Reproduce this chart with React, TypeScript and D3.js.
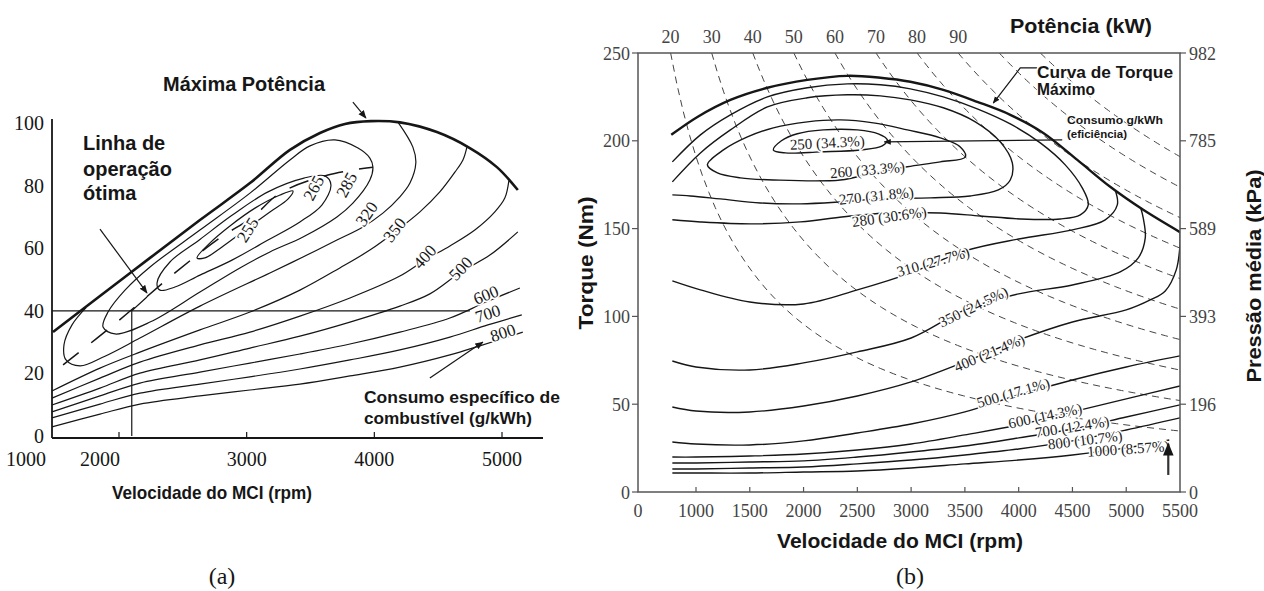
import React from "react";
import * as d3 from "d3";

type Pt = [number, number];

// ================= Chart (a): speed (rpm) x load (%) =================
const aXTicks = [1000, 2000, 3000, 4000, 5000];
const aYTicks = [0, 20, 40, 60, 80, 100];

const aMaxPower: Pt[] = [[1483, 33.2], [1851, 44.7], [2243, 56.9], [2634, 69.0], [3026, 80.8], [3339, 91.4], [3574, 96.8], [3770, 99.7], [3973, 100.6], [4200, 100.2], [4490, 97.1], [4748, 92.0], [4960, 85.9], [5124, 78.6]];
const aIso255: Pt[] = [[2611, 56.9], [2713, 61.7], [2869, 67.1], [3065, 72.8], [3261, 77.0], [3362, 78.3], [3323, 75.7], [3182, 71.6], [2987, 65.8], [2807, 60.4], [2673, 56.9]];
const aIso265: Pt[] = [[2298, 48.9], [2399, 55.6], [2634, 62.8], [2885, 70.5], [3167, 78.0], [3449, 82.4], [3613, 83.1], [3660, 80.2], [3589, 73.8], [3417, 68.4], [3167, 62.6], [2885, 56.2], [2634, 51.4], [2438, 47.6], [2321, 46.6]];
const aIso285: Pt[] = [[1875, 34.8], [1969, 32.6], [2243, 36.4], [2634, 46.0], [2947, 53.7], [3182, 58.8], [3441, 63.6], [3707, 70.0], [3832, 74.4], [3965, 81.8], [3989, 85.9], [3965, 88.8], [3872, 92.0], [3691, 94.6], [3496, 92.7], [3339, 88.2], [3026, 77.6], [2634, 65.8], [2243, 54.0], [2047, 46.6], [1914, 39.6]];
const aIso320: Pt[] = [[1742, 41.0], [1632, 35.5], [1569, 29.1], [1585, 24.3], [1695, 22.4], [1890, 25.5], [2164, 31.3], [2634, 41.5], [3182, 52.1], [3441, 57.2], [3707, 62.6], [3911, 66.8], [4067, 71.2], [4200, 76.4], [4279, 80.8], [4325, 87.2], [4302, 92.3], [4185, 100.3]];
const aIso350: Pt[] = [[1475, 14.4], [1851, 21.7], [2164, 26.8], [2634, 33.9], [3026, 39.6], [3417, 46.6], [3730, 53.7], [3965, 59.4], [4161, 65.2], [4357, 71.6], [4513, 78.0], [4631, 84.3], [4694, 88.2], [4725, 92.3]];
const aIso400: Pt[] = [[1475, 12.1], [1851, 18.5], [2164, 23.6], [2634, 29.1], [3026, 33.2], [3417, 38.3], [3809, 44.1], [4200, 51.1], [4396, 56.2], [4592, 60.7], [4787, 65.8], [4944, 71.6], [5022, 76.0], [5054, 81.6]];
const aIso500: Pt[] = [[1475, 9.9], [1851, 15.3], [2164, 20.1], [2634, 24.3], [3026, 28.1], [3417, 31.9], [3809, 36.4], [4200, 41.5], [4435, 45.4], [4678, 52.4], [4905, 57.8], [5124, 65.2]];
const aIso600: Pt[] = [[1475, 7.7], [1851, 12.8], [2164, 16.9], [2634, 20.4], [3026, 23.3], [3417, 26.2], [3809, 29.4], [4200, 33.2], [4592, 37.7], [4874, 42.8], [5140, 47.3]];
const aIso700: Pt[] = [[1475, 5.8], [1851, 10.2], [2164, 13.7], [2634, 16.6], [3026, 18.9], [3417, 21.4], [3809, 24.3], [4200, 27.5], [4592, 31.6], [4889, 35.5], [5155, 38.7]];
const aIso800: Pt[] = [[1475, 2.9], [1851, 7.0], [2164, 10.2], [2634, 12.8], [3026, 14.7], [3417, 16.6], [3809, 19.2], [4200, 22.0], [4592, 25.9], [4826, 28.8], [5163, 33.2]];
const aOptimalLine: Pt[] = [[1562, 22.7], [1984, 36.4], [2438, 52.1], [2791, 63.3], [3049, 70.0], [3261, 77.6], [3637, 83.4], [3989, 85.9]];
const aOperatingPoint: Pt[] = [[2100, 0], [2100, 40], [2219, 44.4]];
const aLoadLine = 40;
const aLoadLineEnd = 4748;
const aIsoLabels = [
  { text: "255", n: 3010, t: 65.8, rot: -58 },
  { text: "265", n: 3527, t: 79.2, rot: -62 },
  { text: "285", n: 3785, t: 80.2, rot: -62 },
  { text: "320", n: 3942, t: 70.9, rot: -55 },
  { text: "350", n: 4161, t: 65.8, rot: -52 },
  { text: "400", n: 4396, t: 57.2, rot: -48 },
  { text: "500", n: 4678, t: 53.4, rot: -46 },
  { text: "600", n: 4874, t: 45.0, rot: -22 },
  { text: "700", n: 4889, t: 39.0, rot: -18 },
  { text: "800", n: 5007, t: 32.9, rot: -18 },
];

// ================= Chart (b): speed (rpm) x torque (Nm) =================
const bXTicks = [0, 1000, 1500, 2000, 2500, 3000, 3500, 4000, 4500, 5000, 5500];
const bYTicks = [0, 50, 100, 150, 200, 250];
const bPressureLabels = ["0", "196", "393", "589", "785", "982"];
const bPowerKW = [20, 30, 40, 50, 60, 70, 80, 90, 100, 110];
const bPowerTickLabels = [20, 30, 40, 50, 60, 70, 80, 90];

const bMaxTorque: Pt[] = [[770, 203.4], [1013, 213.6], [1320, 223.3], [1664, 230.2], [2035, 234.7], [2407, 237.0], [2714, 235.9], [2993, 233.6], [3299, 229.0], [3615, 222.2], [3922, 214.8], [4229, 204.5], [4545, 189.1], [4851, 173.8], [5158, 160.7], [5500, 148.0]];
const bIso250: Pt[] = [[1719, 194.8], [1794, 200.0], [1942, 204.0], [2184, 206.2], [2500, 206.2], [2695, 204.0], [2779, 200.5], [2732, 197.1], [2528, 194.8], [2156, 193.7], [1831, 193.1]];
const bIso260: Pt[] = [[1106, 186.3], [1255, 194.8], [1478, 202.2], [1719, 207.4], [2035, 210.8], [2342, 211.9], [2649, 210.2], [2965, 206.2], [3271, 201.7], [3457, 196.5], [3504, 190.8], [3271, 188.0], [2965, 185.2], [2649, 181.7], [2342, 177.7], [1719, 177.7], [1413, 178.9], [1199, 181.7]];
const bIso270: Pt[] = [[780, 176.6], [1041, 193.1], [1320, 206.2], [1664, 219.3], [2035, 224.5], [2407, 226.2], [2714, 225.6], [2993, 223.3], [3299, 218.8], [3597, 210.8], [3829, 199.4], [3941, 187.4], [3922, 177.7], [3811, 172.0], [3550, 168.6], [3179, 167.5], [2714, 166.9], [2342, 165.2], [1970, 164.1], [1599, 164.6], [1227, 166.9], [948, 168.6], [780, 169.2]];
const bIso280: Pt[] = [[780, 188.0], [1041, 203.4], [1320, 214.8], [1664, 225.0], [2035, 230.2], [2407, 232.4], [2714, 231.9], [2993, 229.6], [3299, 225.0], [3615, 218.2], [3922, 209.6], [4201, 198.8], [4433, 186.3], [4591, 173.2], [4647, 163.5], [4573, 157.8], [4387, 155.5], [4015, 155.5], [3643, 157.2], [3271, 158.9], [2779, 158.9], [2435, 157.2], [1970, 153.8], [1506, 152.7], [1041, 153.8], [780, 155.0]];
const bIso310: Pt[] = [[780, 120.2], [1041, 115.1], [1500, 108.2], [2000, 107.1], [2500, 115.1], [3000, 124.8], [3500, 137.3], [4000, 144.1], [4500, 149.3], [4805, 155.0], [4917, 163.5], [4898, 171.8]];
const bIso350: Pt[] = [[780, 74.6], [1000, 71.2], [1500, 69.5], [2000, 73.5], [2500, 79.8], [3000, 87.7], [3500, 103.7], [4000, 112.8], [4500, 117.9], [4944, 125.3], [5112, 133.3], [5177, 144.7], [5158, 156.1], [5135, 161.7]];
const bIso400: Pt[] = [[780, 48.4], [1000, 46.1], [1500, 45.6], [2000, 49.0], [2500, 54.7], [3000, 62.7], [3500, 74.1], [4000, 86.6], [4500, 96.8], [5000, 103.7], [5223, 109.4], [5363, 114.5], [5465, 126.5], [5500, 140.7], [5500, 148.0]];
const bIso500: Pt[] = [[780, 28.5], [1000, 27.3], [1500, 26.8], [2000, 29.1], [2500, 33.6], [3000, 38.7], [3500, 45.6], [4000, 55.3], [4500, 63.8], [5000, 71.2], [5500, 77.5]];
const bIso600: Pt[] = [[780, 19.9], [1000, 19.9], [1500, 20.5], [2000, 21.6], [2500, 23.9], [3000, 27.3], [3500, 32.5], [4000, 38.2], [4500, 45.6], [5000, 53.0], [5500, 60.4]];
const bIso700: Pt[] = [[780, 16.5], [1000, 16.5], [1500, 17.1], [2000, 17.7], [2500, 19.9], [3000, 22.8], [3500, 26.2], [4000, 30.8], [4500, 35.9], [5000, 42.7], [5500, 49.6]];
const bIso800: Pt[] = [[780, 13.1], [1000, 13.1], [1500, 13.7], [2000, 14.2], [2500, 16.0], [3000, 18.2], [3500, 21.1], [4000, 24.5], [4500, 29.1], [5000, 35.3], [5500, 42.2]];
const bIso1000: Pt[] = [[780, 10.8], [1000, 10.8], [1500, 10.8], [2000, 11.4], [2500, 12.0], [3000, 13.7], [3500, 16.0], [4000, 18.2], [4500, 21.1], [5000, 25.1], [5400, 29.6]];
const bIsoLabels = [
  { text: "250 (34.3%)", n: 2221, t: 198.8, rot: -3 },
  { text: "260 (33.3%)", n: 2593, t: 183.4, rot: -5 },
  { text: "270 (31.8%)", n: 2677, t: 168.6, rot: -6 },
  { text: "280 (30.6%)", n: 2797, t: 156.7, rot: -8 },
  { text: "310 (27.7%)", n: 3206, t: 131.0, rot: -16 },
  { text: "350 (24.5%)", n: 3578, t: 105.4, rot: -26 },
  { text: "400 (21.4%)", n: 3727, t: 79.2, rot: -23 },
  { text: "500 (17.1%)", n: 3950, t: 56.4, rot: -16 },
  { text: "600 (14.3%)", n: 4247, t: 43.3, rot: -12 },
  { text: "700 (12.4%)", n: 4498, t: 37.0, rot: -9 },
  { text: "800 (10.7%)", n: 4619, t: 29.6, rot: -7 },
  { text: "1000 (8.57%)", n: 5019, t: 24.5, rot: -4 },
];
const bEffArrow: Pt[] = [[4405, 200.5], [2751, 199.4]];
const bMaxTorqueLeader: Pt[] = [[4173, 241.5], [4015, 241.5], [3764, 221.5]];
const bIdleArrow: Pt[] = [[5391, 9.7], [5391, 27.5]];

const SERIF = "'Liberation Serif', 'Times New Roman', serif";
const SANS = "'Liberation Sans', Arial, sans-serif";
const INK = "#161616";

export default function App() {
  // chart (a) scales
  const xA = d3.scaleLinear().domain([2000, 5000]).range([119, 502]);
  const yA = d3.scaleLinear().domain([0, 100]).range([436, 123]);
  const aLeft = 52, aRight = 543, aBottom = 438, aTop = 119;
  const aStartRpm = xA.invert(aLeft);

  // chart (b) scales
  const xB = d3.scaleLinear().domain([1000, 5500]).range([696, 1180]);
  const yB = d3.scaleLinear().domain([0, 250]).range([492, 53]);
  const bLeft = 638, bRight = xB(5500), bTop = yB(250), bBottom = yB(0);

  const lineA = d3.line<Pt>().x((d) => xA(d[0])).y((d) => yA(d[1])).curve(d3.curveCatmullRom.alpha(0.5));
  const loopA = d3.line<Pt>().x((d) => xA(d[0])).y((d) => yA(d[1])).curve(d3.curveCatmullRomClosed.alpha(0.5));
  const straightA = d3.line<Pt>().x((d) => xA(d[0])).y((d) => yA(d[1]));
  const lineB = d3.line<Pt>().x((d) => xB(d[0])).y((d) => yB(d[1])).curve(d3.curveCatmullRom.alpha(0.5));
  const loopB = d3.line<Pt>().x((d) => xB(d[0])).y((d) => yB(d[1])).curve(d3.curveCatmullRomClosed.alpha(0.5));
  const straightB = d3.line<Pt>().x((d) => xB(d[0])).y((d) => yB(d[1]));

  // constant-power lines: torque = 9549.3 * P / n
  const bStartRpm = xB.invert(bLeft);
  const powerLine = (p: number): Pt[] => {
    const n0 = Math.max((9549.3 * p) / 250, bStartRpm);
    return d3.range(0, 81).map((i) => {
      const n = n0 + ((5500 - n0) * i) / 80;
      return [n, (9549.3 * p) / n] as Pt;
    });
  };

  const aOpen = [aIso320, aIso350, aIso400, aIso500, aIso600, aIso700, aIso800];
  const aClosed = [aIso255, aIso265, aIso285];
  const bOpen = [bIso270, bIso280, bIso310, bIso350, bIso400, bIso500, bIso600, bIso700, bIso800, bIso1000];
  const bClosed = [bIso250, bIso260];

  const aXLabelPos = (v: number) => (v === 1000 ? aLeft - 26 : v === 2000 ? xA(v) - 19 : xA(v));
  const bXLabelPos = (v: number) => (v === 0 ? bLeft : xB(v));

  return (
    <svg width={1264} height={591} viewBox="0 0 1264 591" style={{ position: "absolute", left: 0, top: 0, background: "#fff" }}>
      <defs>
        <marker id="arr" viewBox="0 0 10 10" refX="9" refY="5" markerWidth="7" markerHeight="7" orient="auto">
          <path d="M0,1 L10,5 L0,9 z" fill={INK} />
        </marker>
        <marker id="arrB" viewBox="0 0 10 10" refX="9" refY="5" markerWidth="6" markerHeight="6" orient="auto">
          <path d="M0,1 L10,5 L0,9 z" fill={INK} />
        </marker>
        <clipPath id="clipB">
          <rect x={bLeft} y={bTop} width={bRight - bLeft} height={bBottom - bTop} />
        </clipPath>
      </defs>
      <rect x={0} y={0} width={1264} height={591} fill="#fff" />

      {/* ================= Chart (a) ================= */}
      <g>
        <path d={straightA([[aStartRpm, aLoadLine], [aLoadLineEnd, aLoadLine]]) || ""} fill="none" stroke={INK} strokeWidth={1.2} />
        <path d={straightA(aOperatingPoint) || ""} fill="none" stroke={INK} strokeWidth={1.2} />
        {aClosed.map((c, i) => (
          <path key={"ac" + i} d={loopA(c) || ""} fill="none" stroke={INK} strokeWidth={1.2} />
        ))}
        {aOpen.map((c, i) => (
          <path key={"ao" + i} d={lineA(c) || ""} fill="none" stroke={INK} strokeWidth={1.2} />
        ))}
        <path d={lineA(aOptimalLine) || ""} fill="none" stroke={INK} strokeWidth={1.5} strokeDasharray="20,16" />
        <path d={lineA(aMaxPower) || ""} fill="none" stroke={INK} strokeWidth={2.6} />
        {aIsoLabels.map((l) => (
          <text key={l.text} x={xA(l.n)} y={yA(l.t)} transform={`rotate(${l.rot},${xA(l.n)},${yA(l.t)})`}
            textAnchor="middle" dominantBaseline="central" fontFamily={SERIF} fontSize={17} fill={INK}
            stroke="#fff" strokeWidth={3.5} paintOrder="stroke">{l.text}</text>
        ))}
        <line x1={aLeft} y1={aTop} x2={aLeft} y2={aBottom} stroke={INK} strokeWidth={1.8} />
        <line x1={aLeft} y1={aBottom} x2={aRight} y2={aBottom} stroke={INK} strokeWidth={2} />
        {aXTicks.filter((v) => v > 1000).map((v) => (
          <line key={"axt" + v} x1={xA(v)} x2={xA(v)} y1={aBottom} y2={aBottom - 6} stroke={INK} strokeWidth={1.2} />
        ))}
        {aXTicks.map((v) => (
          <text key={"axl" + v} x={aXLabelPos(v)} y={466} textAnchor="middle" fontFamily={SERIF} fontSize={20} fill={INK}>{v}</text>
        ))}
        {aYTicks.map((v) => (
          <text key={"ayl" + v} x={44} y={yA(v) + 7} textAnchor="end" fontFamily={SERIF} fontSize={20} fill={INK}>{v}</text>
        ))}
        <text x={163} y={91} fontFamily={SANS} fontWeight="bold" fontSize={20} fill={INK} textLength={162} lengthAdjust="spacingAndGlyphs">Máxima Potência</text>
        <path d={straightA([[3832, 106.7], [3934, 101.6]]) || ""} stroke={INK} strokeWidth={1.2} markerEnd="url(#arr)" />
        <text x={83} y={150} fontFamily={SANS} fontWeight="bold" fontSize={20} fill={INK}>Linha de</text>
        <text x={83} y={176} fontFamily={SANS} fontWeight="bold" fontSize={20} fill={INK}>operação</text>
        <text x={83} y={200} fontFamily={SANS} fontWeight="bold" fontSize={20} fill={INK}>ótima</text>
        <path d={straightA([[1851, 66.1], [2219, 45.7]]) || ""} stroke={INK} strokeWidth={1.2} markerEnd="url(#arr)" />
        <text x={364} y={403} fontFamily={SANS} fontWeight="bold" fontSize={16} fill={INK} textLength={196} lengthAdjust="spacingAndGlyphs">Consumo específico de</text>
        <text x={364} y={424} fontFamily={SANS} fontWeight="bold" fontSize={16} fill={INK} textLength={168} lengthAdjust="spacingAndGlyphs">combustível (g/kWh)</text>
        <path d={straightA([[4435, 18.5], [4850, 30.0]]) || ""} stroke={INK} strokeWidth={1.2} markerEnd="url(#arr)" />
        <text x={212} y={499} textAnchor="middle" fontFamily={SANS} fontWeight="bold" fontSize={19} fill={INK} textLength={200} lengthAdjust="spacingAndGlyphs">Velocidade do MCI (rpm)</text>
        <text x={222} y={584} textAnchor="middle" fontFamily={SERIF} fontSize={24} fill={INK}>(a)</text>
      </g>

      {/* ================= Chart (b) ================= */}
      <g>
        <g clipPath="url(#clipB)">
          {bPowerKW.map((p) => (
            <path key={"pw" + p} d={straightB(powerLine(p)) || ""} fill="none" stroke="#444" strokeWidth={1} strokeDasharray="7,5" />
          ))}
          {bClosed.map((c, i) => (
            <path key={"bc" + i} d={loopB(c) || ""} fill="none" stroke={INK} strokeWidth={1.4} />
          ))}
          {bOpen.map((c, i) => (
            <path key={"bo" + i} d={lineB(c) || ""} fill="none" stroke={INK} strokeWidth={1.4} />
          ))}
          <path d={lineB(bMaxTorque) || ""} fill="none" stroke={INK} strokeWidth={2.4} />
        </g>
        {bIsoLabels.map((l) => (
          <text key={l.text} x={xB(l.n)} y={yB(l.t)} transform={`rotate(${l.rot},${xB(l.n)},${yB(l.t)})`}
            textAnchor="middle" dominantBaseline="central" fontFamily={SERIF} fontSize={15} fill="#222"
            stroke="#fff" strokeWidth={3} paintOrder="stroke">{l.text}</text>
        ))}
        <rect x={bLeft} y={bTop} width={bRight - bLeft} height={bBottom - bTop} fill="none" stroke="#555" strokeWidth={1.5} />
        {bYTicks.map((v) => (
          <g key={"byt" + v}>
            <line x1={bLeft - 6} x2={bLeft} y1={yB(v)} y2={yB(v)} stroke="#555" strokeWidth={1.2} />
            <line x1={bRight} x2={bRight + 6} y1={yB(v)} y2={yB(v)} stroke="#555" strokeWidth={1.2} />
            <text x={630} y={yB(v) + 6.5} textAnchor="end" fontFamily={SERIF} fontSize={18} fill="#444">{v}</text>
          </g>
        ))}
        {bPressureLabels.map((s, i) => (
          <text key={"bpl" + s} x={1189} y={yB(bYTicks[i]) + 6.5} fontFamily={SERIF} fontSize={18} fill="#444">{s}</text>
        ))}
        {bXTicks.filter((v) => v > 0 && v < 5500).map((v) => (
          <line key={"bxt" + v} x1={xB(v)} x2={xB(v)} y1={bBottom} y2={bBottom - 5} stroke="#555" strokeWidth={1.2} />
        ))}
        {bXTicks.map((v) => (
          <text key={"bxl" + v} x={bXLabelPos(v)} y={517} textAnchor="middle" fontFamily={SERIF} fontSize={18} fill="#444">{v}</text>
        ))}
        {bPowerTickLabels.map((p) => (
          <text key={"ptl" + p} x={xB((9549.3 * p) / 250)} y={43} textAnchor="middle" fontFamily={SERIF} fontSize={18} fill="#444">{p}</text>
        ))}
        <path d={straightB(bEffArrow) || ""} fill="none" stroke={INK} strokeWidth={1.2} markerEnd="url(#arrB)" />
        <path d={straightB(bMaxTorqueLeader) || ""} fill="none" stroke={INK} strokeWidth={1.2} markerEnd="url(#arrB)" />
        <path d={straightB(bIdleArrow) || ""} fill="none" stroke="#333" strokeWidth={2.2} markerEnd="url(#arrB)" />
        <text x={1037} y={78} fontFamily={SANS} fontWeight="bold" fontSize={17} fill={INK} textLength={136} lengthAdjust="spacingAndGlyphs"
          stroke="#fff" strokeWidth={3} paintOrder="stroke">Curva de Torque</text>
        <text x={1037} y={95} fontFamily={SANS} fontWeight="bold" fontSize={17} fill={INK} textLength={58} lengthAdjust="spacingAndGlyphs"
          stroke="#fff" strokeWidth={3} paintOrder="stroke">Máximo</text>
        <text x={1067} y={124} fontFamily={SANS} fontWeight="bold" fontSize={10.5} fill={INK} textLength={96} lengthAdjust="spacingAndGlyphs"
          stroke="#fff" strokeWidth={2} paintOrder="stroke">Consumo g/kWh</text>
        <text x={1067} y={138} fontFamily={SANS} fontWeight="bold" fontSize={10.5} fill={INK} textLength={60} lengthAdjust="spacingAndGlyphs"
          stroke="#fff" strokeWidth={2} paintOrder="stroke">(eficiência)</text>
        <text x={1081} y={33} textAnchor="middle" fontFamily={SANS} fontWeight="bold" fontSize={21} fill={INK} textLength={142} lengthAdjust="spacingAndGlyphs">Potência (kW)</text>
        <text x={900} y={548} textAnchor="middle" fontFamily={SANS} fontWeight="bold" fontSize={21} fill={INK} textLength={246} lengthAdjust="spacingAndGlyphs">Velocidade do MCI (rpm)</text>
        <text transform="translate(593,263) rotate(-90)" textAnchor="middle" fontFamily={SANS} fontWeight="bold" fontSize={21} fill={INK} textLength={133} lengthAdjust="spacingAndGlyphs">Torque (Nm)</text>
        <text transform="translate(1261,276) rotate(-90)" textAnchor="middle" fontFamily={SANS} fontWeight="bold" fontSize={21} fill={INK} textLength={213} lengthAdjust="spacingAndGlyphs">Pressão média (kPa)</text>
        <text x={910} y={584} textAnchor="middle" fontFamily={SERIF} fontSize={24} fill={INK}>(b)</text>
      </g>
    </svg>
  );
}
